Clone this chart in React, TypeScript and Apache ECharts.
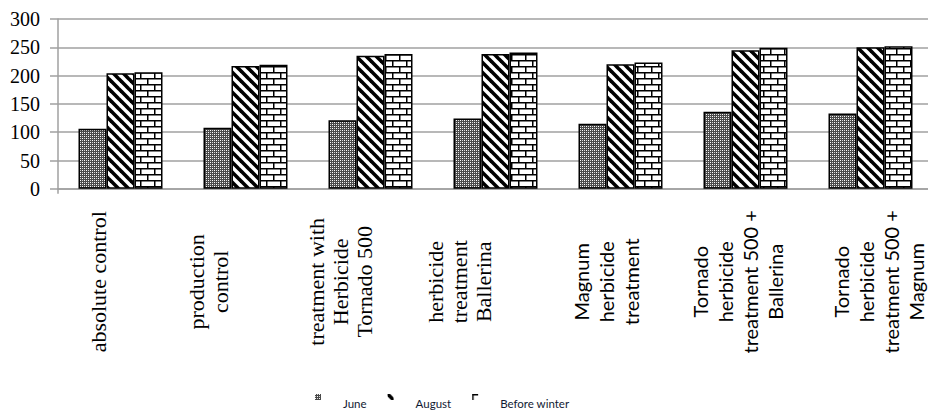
import React, { useEffect, useRef } from "react";
import * as echarts from "echarts";

const categories = [
  "absolute control",
  "production\ncontrol",
  "treatment with\nHerbicide\nTornado 500",
  "herbicide\ntreatment\nBallerina",
  "Magnum\nherbicide\ntreatment",
  "Tornado\nherbicide\ntreatment 500 +\nBallerina",
  "Tornado\nherbicide\ntreatment 500 +\nMagnum",
];
const seriesNames = ["June", "August", "Before winter"];
const juneValues = [106, 108, 121, 124, 115, 136, 133];
const augustValues = [204, 217, 235, 238, 220, 245, 250];
const beforeWinterValues = [206, 219, 238, 241, 223, 249, 252];
const yTicks = { min: 0, max: 300, interval: 50 };

// label layout helpers (screen x shift of each rotated label block, px)
const labelShift = [-22, -37, -30, -36, -15, -8, 8];
const serifLabel = [true, true, true, true, false, false, false];

function makeCanvas(w: number, h: number, draw: (c: CanvasRenderingContext2D) => void) {
  const cv = document.createElement("canvas");
  cv.width = w;
  cv.height = h;
  const ctx = cv.getContext("2d")!;
  draw(ctx);
  return { image: cv, repeat: "repeat", imageWidth: w, imageHeight: h } as any;
}

export default function App() {
  const ref = useRef<HTMLDivElement>(null);
  useEffect(() => {
    if (!ref.current) return;
    const chart = echarts.init(ref.current, null, { renderer: "svg" });

    const junePat = makeCanvas(4, 4, (c) => {
      c.fillStyle = "#4a4a4a";
      c.fillRect(0, 0, 4, 4);
      c.fillStyle = "#ffffff";
      c.fillRect(0, 0, 1, 1);
      c.fillRect(2, 2, 1, 1);
      c.fillStyle = "#d4d4d4";
      c.fillRect(2, 0, 1, 1);
      c.fillRect(0, 2, 1, 1);
    });
    const augPat = makeCanvas(10, 10, (c) => {
      c.fillStyle = "#ffffff";
      c.fillRect(0, 0, 10, 10);
      c.strokeStyle = "#000000";
      c.lineWidth = 3.6;
      for (let k = -2; k <= 2; k++) {
        c.beginPath();
        c.moveTo(k * 10 - 5, -5);
        c.lineTo(k * 10 + 15, 15);
        c.stroke();
      }
    });
    const brickPat = makeCanvas(14, 12, (c) => {
      c.fillStyle = "#ffffff";
      c.fillRect(0, 0, 14, 12);
      c.fillStyle = "#000000";
      c.fillRect(0, 0, 14, 1.5);
      c.fillRect(0, 6, 14, 1.5);
      c.fillRect(0, 0, 1.5, 6);
      c.fillRect(7, 6, 1.5, 6);
    });
    const patterns = [junePat, augPat, brickPat];
    const values = [juneValues, augustValues, beforeWinterValues];

    const catData = categories.map((c, i) => ({
      value: c,
      textStyle: {
        fontFamily: serifLabel[i] ? "Liberation Serif" : "Lato",
        fontSize: serifLabel[i] ? 22 : 20,
        lineHeight: serifLabel[i] ? 24 : 25,
        color: "#000000",
        align: "center",
        verticalAlign: "middle",
      },
    }));

    chart.setOption({
      animation: false,
      backgroundColor: "#ffffff",
      grid: { left: 58, right: -5, top: 19, bottom: 223.2, outerBoundsMode: "none" },
      legend: {
        data: seriesNames,
        left: 310,
        top: 389,
        itemWidth: 6,
        itemHeight: 18,
        itemGap: 21,
        icon: "path://M0 0H6V6H0Z M0 17.95H0.05V18H0Z",
        itemStyle: { borderWidth: 0 },
        textStyle: {
          fontFamily: "Lato",
          fontSize: 11.5,
          color: "#111a33",
          padding: [0, 0, 0, 17],
        },
      },
      xAxis: {
        type: "category",
        data: catData,
        boundaryGap: true,
        axisLine: { show: true, lineStyle: { color: "#a0a0a0", width: 1.5 } },
        axisTick: { show: true, length: 5, interval: (i: number) => i === 0, lineStyle: { color: "#a0a0a0", width: 1.5 } },
        axisLabel: {
          interval: 0,
          rotate: 90,
          align: "center",
          verticalAlign: "middle",
          margin: 93,
          color: "#000000",
          formatter: (v: string, i: number) => {
            const s = labelShift[i];
            const h = Math.round(Math.abs(s) * 2);
            return s < 0 ? `${v}\n{sp${h}|}` : `{sp${h}|}\n${v}`;
          },
          rich: Object.fromEntries(
            labelShift.map((s) => {
              const h = Math.round(Math.abs(s) * 2);
              return [`sp${h}`, { height: h, lineHeight: h, fontSize: 1 }];
            })
          ),
        },
      },
      yAxis: {
        type: "value",
        min: yTicks.min,
        max: yTicks.max,
        interval: yTicks.interval,
        axisLine: { show: true, lineStyle: { color: "#a0a0a0", width: 1.5 } },
        axisTick: { show: true, length: 8, lineStyle: { color: "#a0a0a0", width: 1.5 } },
        splitLine: { show: true, lineStyle: { color: "#a0a0a0", width: 1.5 } },
        axisLabel: {
          fontFamily: "Liberation Serif",
          fontSize: 20,
          color: "#000000",
          margin: 18,
        },
      },
      series: seriesNames.map((name, si) => ({
        name,
        type: "bar",
        data: values[si],
        barWidth: 28,
        barGap: "0%",
        itemStyle: { color: patterns[si], borderColor: "#000000", borderWidth: 1.5 },
      })),
    });
    return () => chart.dispose();
  }, []);
  return (
    <div
      ref={ref}
      style={{ position: "fixed", left: 0, top: 0, width: 928, height: 412, background: "#fff" }}
    />
  );
}
